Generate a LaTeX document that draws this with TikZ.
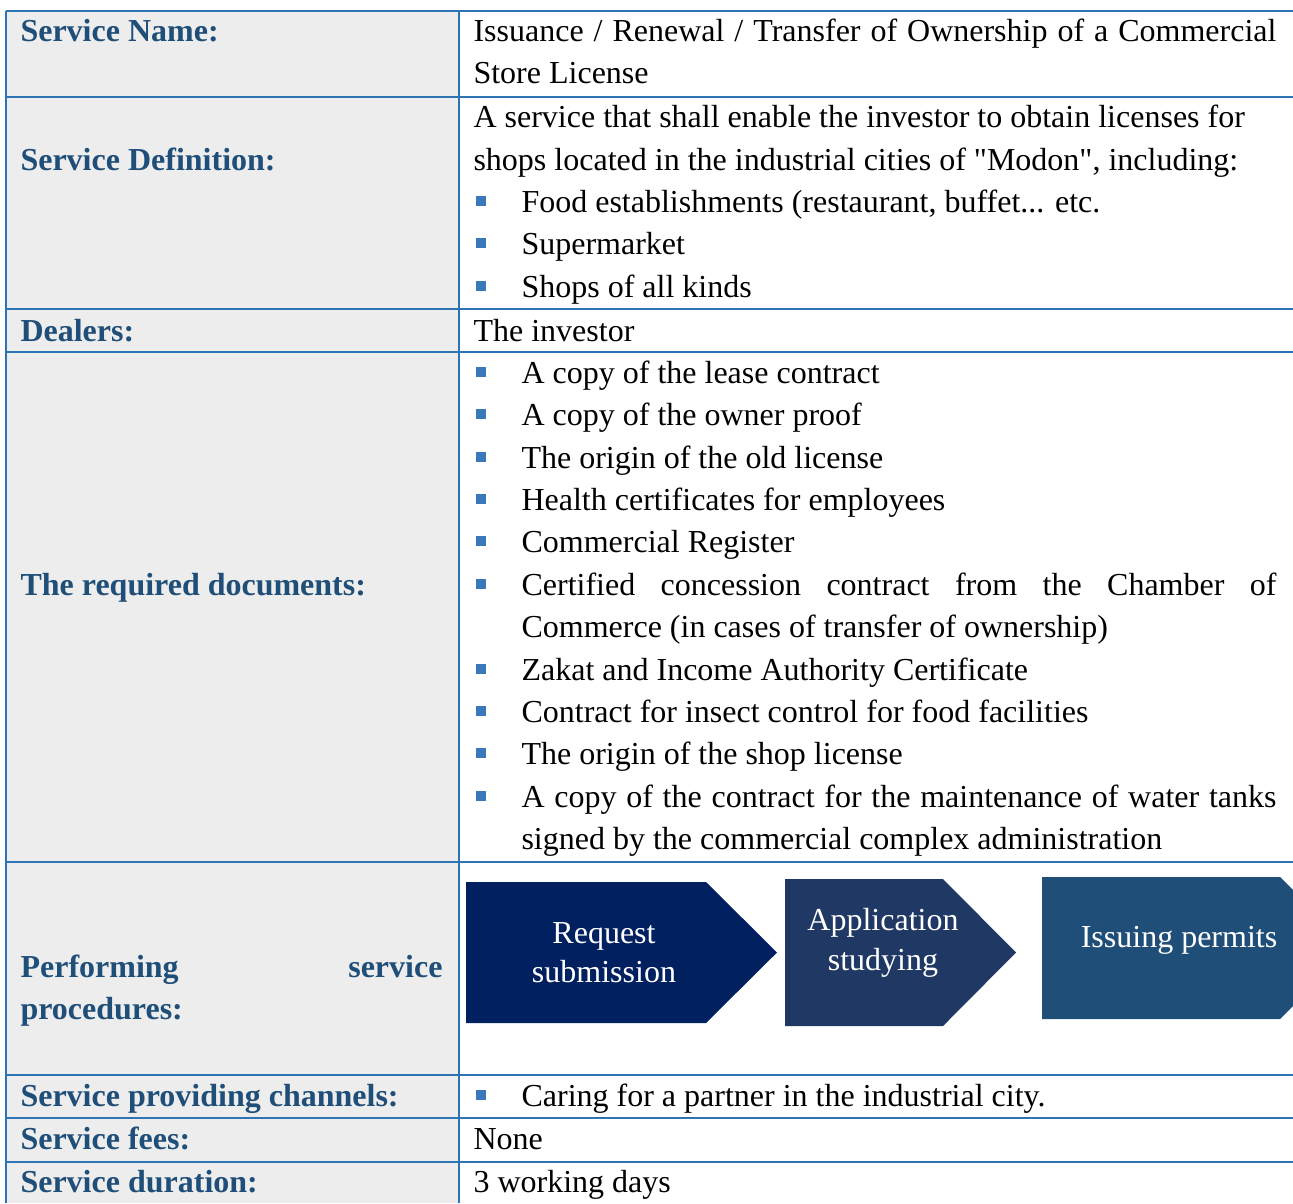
\documentclass[tikz,border=0pt]{standalone}
\usepackage{fontspec}
\setmainfont{Liberation Serif}
\usetikzlibrary{positioning}
\definecolor{color-rule}{RGB}{46,116,181}
\definecolor{color-head}{RGB}{31,78,121}
\definecolor{color-cell}{RGB}{237,237,237}
\definecolor{color-bullet}{RGB}{58,120,185}
\definecolor{color-step1}{RGB}{0,32,96}
\definecolor{color-step2}{RGB}{32,56,100}
\definecolor{color-step3}{RGB}{31,78,121}

\begin{document}
\begin{tikzpicture}[x=0.375pt, y=-0.375pt, font=\fontsize{12}{14.4}\selectfont,
txt/.style={anchor=base west, inner sep=0pt},
head/.style={txt, font=\fontsize{12}{14.4}\selectfont\bfseries, text=color-head},
bul/.style={rectangle, inner sep=0pt, minimum size=3.5pt, fill=color-bullet},
steptext/.style={anchor=base, inner sep=0pt, text=white},
rule/.style={color-rule, line width=0.8pt}]
\useasboundingbox (0,0) rectangle (1293,1203);

% left column
\fill[color-cell] (6,11) rectangle (459,1203);

% steps
\fill[color-step1] (466,882) -- (706,882) -- (777,952.5) -- (706,1023) -- (466,1023) -- cycle;
\fill[color-step2] (785,879) -- (943,879) -- (1016,952.5) -- (943,1026) -- (785,1026) -- cycle;
\fill[color-step3] (1042,877) -- (1280,877) -- (1293,890) -- (1293,1006) -- (1280,1019) -- (1042,1019) -- cycle;
\node [steptext] (s1a) at (604,943) {Request};
\node [steptext] (s1b) at (604,982) {submission};
\node [steptext] (s2a) at (883,930) {Application};
\node [steptext] (s2b) at (883,970) {studying};
\node [steptext] (s3a) at (1179,947) {Issuing permits};

% rules
\foreach \y in {11,97,309,352,862,1075,1118,1162}
  \draw[rule] (6,\y) -- (1293,\y);
\draw[rule] (6,11) -- (6,1203);
\draw[rule] (459,11) -- (459,1203);

% headings
\node [head] (hname) at (20,41) {Service Name:};
\node [head] (hdef) at (20,170) {Service Definition:};
\node [head] (hdeal) at (20,341) {Dealers:};
\node [head] (hdocs) at (20,595) {The required documents:};
\node [head] (hproc) at (20,977) {Performing};
\node [head, anchor=base east] (hproc2) at (443,977) {service};
\node [head] (hproc3) at (20,1019) {procedures:};
\node [head] (hchan) at (20,1106) {Service providing channels:};
\node [head] (hfees) at (20,1149) {Service fees:};
\node [head] (hdur) at (20,1192) {Service duration:};

% name
\node [txt] (name1) at (473,41) {\makebox[301.1pt][s]{Issuance / Renewal / Transfer of Ownership of a Commercial}};
\node [txt] (name2) at (473,83) {Store License};

% definition
\node [txt] (def1) at (473,127) {A service that shall enable the investor to obtain licenses for};
\node [txt] (def2) at (473,170) {shops located in the industrial cities of \textquotedbl Modon\textquotedbl, including:};
\node [bul] (b1) at (481,201) {};
\node [txt] (def3) at (521,212) {Food establishments (restaurant, buffet... etc.};
\node [bul] (b2) at (481,243) {};
\node [txt] (def4) at (521,254) {Supermarket};
\node [bul] (b3) at (481,286) {};
\node [txt] (def5) at (521,297) {Shops of all kinds};

% dealers
\node [txt] (deal) at (473,341) {The investor};

% documents
\node [bul] (b4) at (481,372) {};
\node [txt] (doc1) at (521,383) {A copy of the lease contract};
\node [bul] (b5) at (481,414) {};
\node [txt] (doc2) at (521,425) {A copy of the owner proof};
\node [bul] (b6) at (481,457) {};
\node [txt] (doc3) at (521,468) {The origin of the old license};
\node [bul] (b7) at (481,499) {};
\node [txt] (doc4) at (521,510) {Health certificates for employees};
\node [bul] (b8) at (481,541) {};
\node [txt] (doc5) at (521,552) {Commercial Register};
\node [bul] (b9) at (481,584) {};
\node [txt] (doc6) at (521,595) {\makebox[283.1pt][s]{Certified concession contract from the Chamber of}};
\node [txt] (doc6b) at (521,637) {Commerce (in cases of transfer of ownership)};
\node [bul] (b10) at (481,669) {};
\node [txt] (doc7) at (521,680) {Zakat and Income Authority Certificate};
\node [bul] (b11) at (481,711) {};
\node [txt] (doc8) at (521,722) {Contract for insect control for food facilities};
\node [bul] (b12) at (481,753) {};
\node [txt] (doc9) at (521,764) {The origin of the shop license};
\node [bul] (b13) at (481,796) {};
\node [txt] (doc10) at (521,807) {\makebox[283.1pt][s]{A copy of the contract for the maintenance of water tanks}};
\node [txt] (doc10b) at (521,849) {signed by the commercial complex administration};

% channels, fees, duration
\node [bul] (b14) at (481,1095) {};
\node [txt] (chan) at (521,1106) {Caring for a partner in the industrial city.};
\node [txt] (fees) at (473,1149) {None};
\node [txt] (dur) at (473,1192) {3 working days};
\end{tikzpicture}
\end{document}
